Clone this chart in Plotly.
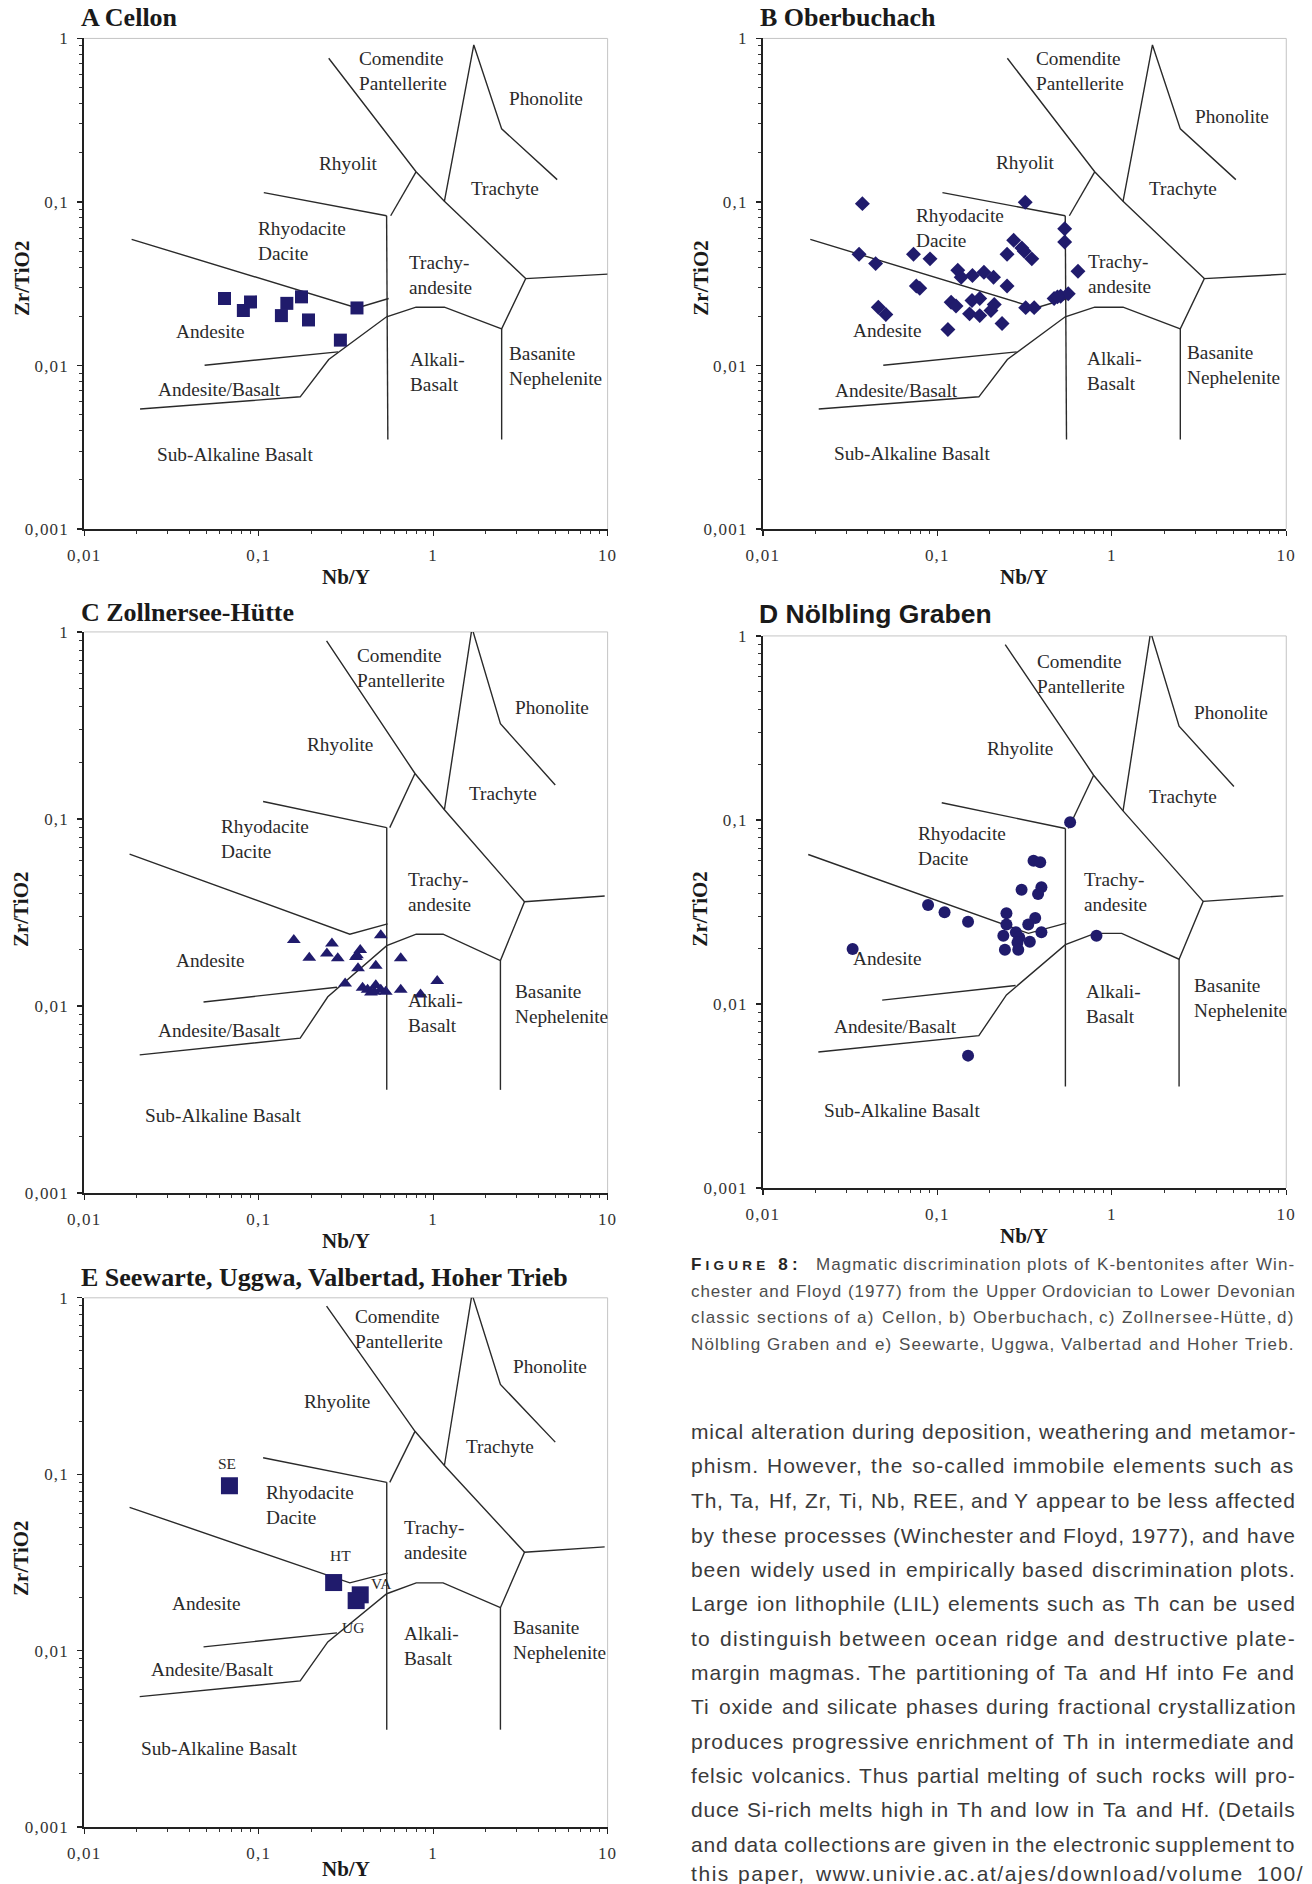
import math
import plotly.graph_objects as go

W, H = 1312, 1884

# ---------------- data ----------------
x_tick_vals = [0.01, 0.1, 1, 10]
x_tick_text = ["0,01", "0,1", "1", "10"]
y_tick_vals = [0.001, 0.01, 0.1, 1]
y_tick_text = ["0,001", "0,01", "0,1", "1"]

# field boundaries (Winchester & Floyd 1977) - drawing used in panels A, B
g1_comendite_x = [0.252, 0.798, 1.16, 3.39]
g1_comendite_y = [0.756, 0.153, 0.101, 0.034]
g1_phonolite_x = [1.16, 1.71, 2.47, 5.14]
g1_phonolite_y = [0.101, 0.912, 0.280, 0.137]
g1_rhyolite_x = [0.107, 0.541]
g1_rhyolite_y = [0.114, 0.0824]
g1_trachy_x = [0.798, 0.571]
g1_trachy_y = [0.153, 0.0824]
g1_vertical_x = [0.541, 0.550]
g1_vertical_y = [0.0824, 0.00353]
g1_rhyodacite_x = [0.0187, 0.366, 0.556]
g1_rhyodacite_y = [0.0591, 0.0225, 0.0257]
g1_lower_x = [0.0209, 0.173, 0.252, 0.541, 0.798, 1.16, 2.47, 3.39, 10.0]
g1_lower_y = [0.00542, 0.00644, 0.01089, 0.01987, 0.02274, 0.02274, 0.01675, 0.034, 0.0362]
g1_basanite_x = [2.47, 2.47]
g1_basanite_y = [0.01675, 0.00353]
g1_andbas_x = [0.049, 0.285]
g1_andbas_y = [0.01005, 0.01213]

# field boundaries - drawing used in panels C, D, E
g2_comendite_x = [0.245, 0.787, 1.16, 3.34]
g2_comendite_y = [0.897, 0.175, 0.112, 0.0361]
g2_phonolite_x = [1.16, 1.67, 2.43, 5.01]
g2_phonolite_y = [0.112, 1.05, 0.323, 0.152]
g2_rhyolite_x = [0.106, 0.542]
g2_rhyolite_y = [0.124, 0.0899]
g2_trachy_x = [0.787, 0.564]
g2_trachy_y = [0.175, 0.0899]
g2_vertical_x = [0.542, 0.542]
g2_vertical_y = [0.0899, 0.00356]
g2_rhyodacite_x = [0.0182, 0.333, 0.548]
g2_rhyodacite_y = [0.0649, 0.0242, 0.0275]
g2_lower_x = [0.0208, 0.173, 0.249, 0.542, 0.800, 1.14, 2.43, 3.34, 9.62]
g2_lower_y = [0.00548, 0.00673, 0.0112, 0.0210, 0.0242, 0.0242, 0.0175, 0.0361, 0.0387]
g2_basanite_x = [2.43, 2.43]
g2_basanite_y = [0.0175, 0.00356]
g2_andbas_x = [0.0483, 0.281]
g2_andbas_y = [0.0105, 0.0126]

# samples: Nb/Y and Zr/TiO2
cellon_nby = [0.0637, 0.0817, 0.0898, 0.135, 0.145, 0.176, 0.193, 0.294, 0.366]
cellon_zrti = [0.0257, 0.0217, 0.0245, 0.0202, 0.0240, 0.0263, 0.0190, 0.0143, 0.0225]

oberbuchach_nby = [0.0372, 0.319, 0.0356, 0.0443, 0.0730, 0.0908, 0.0758, 0.0793, 0.0459, 0.0507,
                   0.115, 0.131, 0.137, 0.159, 0.185, 0.210, 0.251, 0.120, 0.128, 0.158,
                   0.175, 0.153, 0.175, 0.203, 0.212, 0.235, 0.251, 0.274, 0.305, 0.315,
                   0.348, 0.321, 0.359, 0.467, 0.509, 0.563, 0.537, 0.537, 0.640, 0.488]
oberbuchach_zrti = [0.0977, 0.0995, 0.0479, 0.0420, 0.0479, 0.0449, 0.0306, 0.0297, 0.0227, 0.0205,
                    0.0166, 0.0383, 0.0347, 0.0355, 0.0372, 0.0347, 0.0306, 0.0244, 0.0231, 0.0250,
                    0.0257, 0.0207, 0.0202, 0.0217, 0.0236, 0.0181, 0.0479, 0.0583, 0.0524, 0.0500,
                    0.0449, 0.0226, 0.0226, 0.0257, 0.0265, 0.0275, 0.0687, 0.0570, 0.0377, 0.0263]

zollnersee_nby = [0.159, 0.195, 0.263, 0.246, 0.284, 0.382, 0.361, 0.371, 0.469, 0.501, 0.652, 0.313,
                  0.394, 0.421, 0.469, 0.501, 0.535, 0.440, 0.652, 0.847, 1.055, 0.366, 0.459]
zollnersee_zrti = [0.0225, 0.0181, 0.0216, 0.0191, 0.0180, 0.0199, 0.0183, 0.0159, 0.0164, 0.0239, 0.0180, 0.0132,
                   0.0125, 0.0122, 0.0129, 0.0122, 0.0119, 0.0118, 0.0122, 0.0115, 0.0136, 0.0187, 0.0119]

noelbling_nby = [0.577, 0.356, 0.389, 0.304, 0.395, 0.378, 0.0885, 0.110, 0.150, 0.249, 0.249, 0.364,
                 0.332, 0.395, 0.239, 0.282, 0.295, 0.288, 0.339, 0.244, 0.291, 0.0327, 0.817, 0.150]
noelbling_zrti = [0.0971, 0.0601, 0.0589, 0.0417, 0.0431, 0.0396, 0.0345, 0.0315, 0.0280, 0.0311, 0.0270, 0.0293,
                  0.0270, 0.0245, 0.0235, 0.0245, 0.0230, 0.0216, 0.0218, 0.0197, 0.0197, 0.0199, 0.0235, 0.00524]

e_sections = ["SE", "HT", "VA", "UG"]
e_nby = [0.068, 0.269, 0.382, 0.362]
e_zrti = [0.0861, 0.0243, 0.0207, 0.0192]

caption_lines = [
    "FIGURE_8 Magmatic discrimination plots of K-bentonites after Win-",
    "chester and Floyd (1977) from the Upper Ordovician to Lower Devonian",
    "classic sections of a) Cellon, b) Oberbuchach, c) Zollnersee-Hütte, d)",
    "Nölbling Graben and e) Seewarte, Uggwa, Valbertad and Hoher Trieb.",
]
body_lines = [
    "mical alteration during deposition, weathering and metamor-",
    "phism. However, the so-called immobile elements such as",
    "Th, Ta, Hf, Zr, Ti, Nb, REE, and Y appear to be less affected",
    "by these processes (Winchester and Floyd, 1977), and have",
    "been widely used in empirically based discrimination plots.",
    "Large ion lithophile (LIL) elements such as Th can be used",
    "to distinguish between ocean ridge and destructive plate-",
    "margin magmas. The partitioning of Ta and Hf into Fe and",
    "Ti oxide and silicate phases during fractional crystallization",
    "produces progressive enrichment of Th in intermediate and",
    "felsic volcanics. Thus partial melting of such rocks will pro-",
    "duce Si-rich melts high in Th and low in Ta and Hf. (Details",
    "and data collections are given in the electronic supplement to",
    "this paper, www.univie.ac.at/ajes/download/volume_100/",
]

# ---------------- styling / layout ----------------
SERIF = "Liberation Serif"
SANS = "Liberation Sans"
MARK = "#201b6c"
LINEC = "#2a2a2a"
TXT = "#2a2a2a"

GEOM1 = [(g1_comendite_x, g1_comendite_y), (g1_phonolite_x, g1_phonolite_y),
         (g1_rhyolite_x, g1_rhyolite_y), (g1_trachy_x, g1_trachy_y),
         (g1_vertical_x, g1_vertical_y), (g1_rhyodacite_x, g1_rhyodacite_y),
         (g1_lower_x, g1_lower_y), (g1_basanite_x, g1_basanite_y), (g1_andbas_x, g1_andbas_y)]
GEOM2 = [(g2_comendite_x, g2_comendite_y), (g2_phonolite_x, g2_phonolite_y),
         (g2_rhyolite_x, g2_rhyolite_y), (g2_trachy_x, g2_trachy_y),
         (g2_vertical_x, g2_vertical_y), (g2_rhyodacite_x, g2_rhyodacite_y),
         (g2_lower_x, g2_lower_y), (g2_basanite_x, g2_basanite_y), (g2_andbas_x, g2_andbas_y)]

LABEL_TEXT = {'com': "Comendite<br>Pantellerite", 'pho': "Phonolite", 'tra': "Trachyte",
              'rhd': "Rhyodacite<br>Dacite", 'tan': "Trachy-<br>andesite", 'and': "Andesite",
              'alk': "Alkali-<br>Basalt", 'bas': "Basanite<br>Nephelenite",
              'anb': "Andesite/Basalt", 'sub': "Sub-Alkaline Basalt"}

# label anchor positions (log10 units: left edge, vertical centre)
LAB_A = {'com': (-0.436, -0.198), 'pho': (0.421, -0.366), 'rhy': (-0.665, -0.762), 'tra': (0.204, -0.918),
         'rhd': (-1.015, -1.238), 'tan': (-0.151, -1.448), 'and': (-1.486, -1.790), 'alk': (-0.146, -2.037),
         'bas': (0.421, -2.002), 'anb': (-1.590, -2.149), 'sub': (-1.595, -2.545)}
LAB_B = {'com': (-0.446, -0.198), 'pho': (0.465, -0.476), 'rhy': (-0.674, -0.759), 'tra': (0.201, -0.915),
         'rhd': (-1.134, -1.160), 'tan': (-0.146, -1.441), 'and': (-1.496, -1.784), 'alk': (-0.151, -2.031),
         'bas': (0.417, -1.994), 'anb': (-1.597, -2.153), 'sub': (-1.602, -2.538)}
LAB_C = {'com': (-0.447, -0.191), 'pho': (0.459, -0.406), 'rhy': (-0.732, -0.600), 'tra': (0.193, -0.866),
         'rhd': (-1.227, -1.106), 'tan': (-0.157, -1.392), 'and': (-1.488, -1.757), 'alk': (-0.157, -2.036),
         'bas': (0.459, -1.988), 'anb': (-1.589, -2.132), 'sub': (-1.662, -2.583)}
LAB_D = {'com': (-0.442, -0.206), 'pho': (0.459, -0.415), 'rhy': (-0.726, -0.610), 'tra': (0.200, -0.870),
         'rhd': (-1.123, -1.139), 'tan': (-0.168, -1.392), 'and': (-1.495, -1.753), 'alk': (-0.161, -2.0),
         'bas': (0.459, -1.966), 'anb': (-1.603, -2.123), 'sub': (-1.663, -2.578)}
LAB_E = {'com': (-0.459, -0.176), 'pho': (0.444, -0.389), 'rhy': (-0.751, -0.589), 'tra': (0.174, -0.843),
         'rhd': (-0.969, -1.175), 'tan': (-0.176, -1.374), 'and': (-1.510, -1.733), 'alk': (-0.176, -1.976),
         'bas': (0.444, -1.942), 'anb': (-1.626, -2.107), 'sub': (-1.686, -2.553)}

# pixel offsets of the section tags in panel E relative to their squares
E_TAG_SHIFT = [(-2, 22), (7, 27), (21, 11), (-3, -27)]

panels = [
    dict(title="A Cellon", tfont=SERIF, tsize=26, box=(82, 38.5, 608, 530), geom=GEOM1,
         x=cellon_nby, y=cellon_zrti, symbol="square", size=13, rhy="Rhyolit", lab=LAB_A,
         title_xy=(77, 18), ytitle_xy=(19, 279), xtitle_xy=(345, 578)),
    dict(title="B Oberbuchach", tfont=SERIF, tsize=26, box=(764, 38.5, 1290, 530), geom=GEOM1,
         x=oberbuchach_nby, y=oberbuchach_zrti, symbol="diamond", size=11.5, rhy="Rhyolit", lab=LAB_B,
         title_xy=(759, 18), ytitle_xy=(701, 279), xtitle_xy=(1026, 578)),
    dict(title="C Zollnersee-Hütte", tfont=SERIF, tsize=26, box=(82, 633, 608, 1195), geom=GEOM2,
         x=zollnersee_nby, y=zollnersee_zrti, symbol="triangle-up", size=12, rhy="Rhyolite", lab=LAB_C,
         title_xy=(77, 614), ytitle_xy=(19, 911), xtitle_xy=(345, 1243)),
    dict(title="D Nölbling Graben", tfont=SANS, tsize=26.5, box=(764, 637, 1290, 1190), geom=GEOM2,
         x=noelbling_nby, y=noelbling_zrti, symbol="circle", size=12, rhy="Rhyolite", lab=LAB_D,
         title_xy=(758, 615), ytitle_xy=(701, 911), xtitle_xy=(1026, 1238)),
    dict(title="E Seewarte, Uggwa, Valbertad, Hoher Trieb", tfont=SERIF, tsize=26, box=(82, 1300, 608, 1830),
         geom=GEOM2, x=e_nby, y=e_zrti, symbol="square", size=17, rhy="Rhyolite", lab=LAB_E,
         title_xy=(77, 1280), ytitle_xy=(19, 1561), xtitle_xy=(345, 1872), tags=e_sections),
]

minor_x = [k * 10.0 ** e for e in range(-2, 1) for k in range(2, 10)]
minor_y = [k * 10.0 ** e for e in range(-3, 0) for k in range(2, 10)]


def spaced(t, ls):
    return "<span style='letter-spacing:%.2fpx'>%s</span>" % (ls, t)


fig = go.Figure()
annotations = []
shapes = []
layout = dict(width=W, height=H, margin=dict(l=0, r=0, t=0, b=0), autosize=False,
              paper_bgcolor="white", plot_bgcolor="white", showlegend=False,
              font=dict(family=SERIF, color=TXT))

# page placement correction (keeps the photographed page aligned with the reference)
SX, OX = 1.016, -14.7
SY, OY = 1.0085, -9.1


def px_x(v):
    return (SX * v + OX) / W


def px_y(v):
    return 1 - (SY * v + OY) / H


for i, p in enumerate(panels, start=1):
    sx = "" if i == 1 else str(i)
    xr, yr = "x" + sx, "y" + sx
    x0, y0, x1, y1 = p["box"]
    axis_common = dict(type="log", showgrid=False, zeroline=False, showline=True, linecolor="#222",
                       linewidth=1.8, ticks="outside", ticklen=5, tickwidth=1.3, tickcolor="#222",
                       tickfont=dict(family=SERIF, size=17, color="#333"), mirror=False,
                       tickmode="array", ticklabelstandoff=5)
    layout["xaxis" + sx] = dict(axis_common, domain=[px_x(x0), px_x(x1)], range=[-2, 1], anchor=yr,
                                tickvals=x_tick_vals, ticktext=[spaced(t, 1.2) for t in x_tick_text],
                                minor=dict(tickmode="array", tickvals=minor_x, ticks="outside", ticklen=3,
                                           tickwidth=1, tickcolor="#333"))
    layout["yaxis" + sx] = dict(axis_common, domain=[px_y(y1), px_y(y0)], range=[-3, 0], anchor=xr,
                                tickvals=y_tick_vals, ticktext=[spaced(t, 1.2) for t in y_tick_text],
                                minor=dict(tickmode="array", tickvals=minor_y, ticks="outside", ticklen=3,
                                           tickwidth=1, tickcolor="#333"))
    # light top / right frame
    shapes.append(dict(type="line", xref=xr + " domain", yref=yr + " domain", x0=0, x1=1, y0=1, y1=1,
                       line=dict(color="#c4c4c4", width=1), layer="below"))
    shapes.append(dict(type="line", xref=xr + " domain", yref=yr + " domain", x0=1, x1=1, y0=0, y1=1,
                       line=dict(color="#c4c4c4", width=1), layer="below"))
    # boundaries
    for lx, ly in p["geom"]:
        fig.add_trace(go.Scatter(x=lx, y=ly, mode="lines", xaxis=xr, yaxis=yr, hoverinfo="skip",
                                 line=dict(color=LINEC, width=1.4)))
    # field labels
    for key, (ax, ay) in p["lab"].items():
        txt = p["rhy"] if key == "rhy" else LABEL_TEXT[key]
        annotations.append(dict(text=txt, x=ax, y=ay, xref=xr, yref=yr, xanchor="left", yanchor="middle",
                                align="left", showarrow=False,
                                font=dict(family=SERIF, size=19.3, color=TXT)))
    # samples
    fig.add_trace(go.Scatter(x=p["x"], y=p["y"], xaxis=xr, yaxis=yr, hoverinfo="skip", mode="markers",
                             marker=dict(symbol=p["symbol"], size=p["size"], color=MARK, line=dict(width=0))))
    if "tags" in p:
        for tag, vx, vy, (dx, dy) in zip(p["tags"], p["x"], p["y"], E_TAG_SHIFT):
            annotations.append(dict(text=tag, x=math.log10(vx), y=math.log10(vy), xref=xr, yref=yr,
                                    xshift=dx, yshift=dy, showarrow=False, xanchor="center", yanchor="middle",
                                    font=dict(family=SERIF, size=15.5, color=TXT)))
    # titles
    tx, ty = p["title_xy"]
    annotations.append(dict(text="<b>" + p["title"] + "</b>", x=px_x(tx), y=px_y(ty), xref="paper", yref="paper",
                            xanchor="left", yanchor="middle", showarrow=False,
                            font=dict(family=p["tfont"], size=p["tsize"], color="#1a1a1a")))
    yx, yy = p["ytitle_xy"]
    annotations.append(dict(text="<b>Zr/TiO2</b>", x=px_x(yx), y=px_y(yy), xref="paper", yref="paper",
                            xanchor="center", yanchor="middle", textangle=-90, showarrow=False,
                            font=dict(family=SERIF, size=21, color="#1a1a1a")))
    xx, xy = p["xtitle_xy"]
    annotations.append(dict(text="<b>Nb/Y</b>", x=px_x(xx), y=px_y(xy), xref="paper", yref="paper",
                            xanchor="center", yanchor="middle", showarrow=False,
                            font=dict(family=SERIF, size=21, color="#1a1a1a")))

# ---------------- justified text (caption + body) ----------------
AW = {' ': 278, '(': 333, ')': 333, ',': 278, '-': 333, '.': 278, '/': 278, ':': 278, '_': 556,
      'A': 667, 'B': 667, 'C': 722, 'D': 722, 'E': 667, 'F': 611, 'G': 778, 'H': 722, 'I': 278, 'J': 500,
      'K': 667, 'L': 556, 'M': 833, 'N': 722, 'O': 778, 'P': 667, 'Q': 778, 'R': 722, 'S': 667, 'T': 611,
      'U': 722, 'V': 667, 'W': 944, 'X': 667, 'Y': 667, 'Z': 611,
      'a': 556, 'b': 556, 'c': 500, 'd': 556, 'e': 556, 'f': 278, 'g': 556, 'h': 556, 'i': 222, 'j': 222,
      'k': 500, 'l': 222, 'm': 833, 'n': 556, 'o': 556, 'p': 556, 'q': 556, 'r': 333, 's': 500, 't': 278,
      'u': 556, 'v': 500, 'w': 722, 'x': 500, 'y': 500, 'z': 500, 'ö': 556, 'ü': 556}


def tw(s, size):
    return sum(AW.get(c, 556) for c in s) * size / 1000.0


def justify(line, left, right, yc, size, color, ls, space_w, max_extra, special=None):
    left, right = SX * left + OX, SX * right + OX
    words = line.split(" ")
    nat = []
    for w in words:
        if special and w in special:
            nat.append(special[w][1])
        else:
            nat.append(tw(w, size) + len(w) * ls)
    ngaps = max(1, len(words) - 1)
    chars = sum(len(w) for w in words if not (special and w in special))
    extra = (right - left - sum(nat) - ngaps * space_w) / ngaps
    ls_line = ls
    if extra > max_extra:
        ls_line = ls + (extra - max_extra) * ngaps / max(1, chars)
    widths = []
    for w in words:
        if special and w in special:
            widths.append(special[w][1])
        else:
            widths.append(tw(w, size) + len(w) * ls_line)
    gap = (right - left - sum(widths)) / ngaps
    x = left
    for w, wd in zip(words, widths):
        txt = special[w][0] if (special and w in special) else spaced(w, ls_line)
        annotations.append(dict(text=txt, x=x / W, y=px_y(yc), xref="paper", yref="paper",
                                xanchor="left", yanchor="middle", showarrow=False, borderpad=0,
                                borderwidth=0, font=dict(family=SANS, size=size, color=color)))
        x += wd + gap


fig_word = ("<b><span style='letter-spacing:4.2px;fill:#262626'>F<span style='font-size:13.5px'>IGURE</span>"
            " 8:</span></b>", 120)
cap_y = [1266.5, 1293.5, 1319.5, 1346.5]
for ln, yc in zip(caption_lines, cap_y):
    justify(ln, 692, 1298, yc, 17, "#4d4d4d", 0.6, 17 * 0.278, 2.5, special={"FIGURE_8": fig_word})

body_y = [1434, 1468.4, 1503, 1537.6, 1572.2, 1606.6, 1641, 1675.4, 1709.8, 1744.2, 1778.6, 1813, 1847.4, 1877]
for ln, yc in zip(body_lines, body_y):
    justify(ln, 692, 1298, yc, 21, "#3a3a3a", 0.8, 21 * 0.278, 3.5)

layout["annotations"] = annotations
layout["shapes"] = shapes
fig.update_layout(**layout)
fig.write_html(
    "out.html",
    config={"displayModeBar": False, "staticPlot": True},
    post_script=(
        "document.documentElement.style.margin='0';document.documentElement.style.overflow='hidden';"
        "document.body.style.margin='0';document.body.style.padding='0';document.body.style.overflow='hidden';"
    ),
)
